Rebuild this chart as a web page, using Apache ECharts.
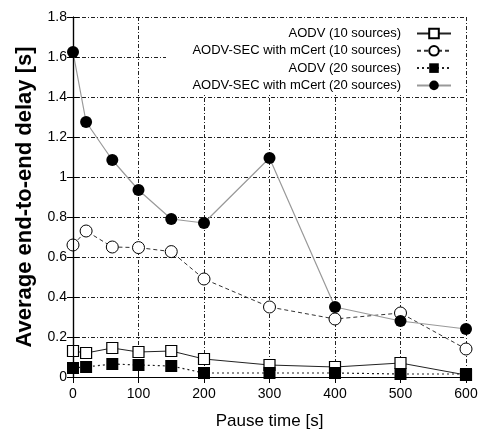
<!DOCTYPE html>
<html>
<head>
<meta charset="utf-8">
<script src="https://cdn.jsdelivr.net/npm/echarts@6/dist/echarts.min.js"></script>
<style>
  html, body { margin: 0; padding: 0; background: #fff; }
  #chart { width: 478px; height: 432px; }
</style>
</head>
<body>
<div id="chart"></div>
<script>
// pause time [s]
var pauseTimes = [0, 20, 60, 100, 150, 200, 300, 400, 500, 600];
// average end-to-end delay [s]
var aodv10 = [0.13, 0.12, 0.145, 0.125, 0.13, 0.09, 0.06, 0.05, 0.07, 0.01];
var sec10 = [0.66, 0.73, 0.65, 0.647, 0.627, 0.49, 0.35, 0.29, 0.32, 0.14];
var aodv20 = [0.045, 0.05, 0.065, 0.06, 0.055, 0.02, 0.02, 0.02, 0.015, 0.015];
var sec20 = [1.625, 1.275, 1.085, 0.935, 0.79, 0.77, 1.095, 0.35, 0.28, 0.24];
var seriesNames = [
  'AODV (10 sources)',
  'AODV-SEC with mCert (10 sources)',
  'AODV (20 sources)',
  'AODV-SEC with mCert (20 sources)'
];

var FONT = '"Liberation Sans", Arial, sans-serif';

function pairs(ys) {
  return pauseTimes.map(function (x, i) { return [x, ys[i]]; });
}

var chart = echarts.init(document.getElementById('chart'));

var gridLine = { show: true, lineStyle: { color: '#222', width: 1, type: [4, 2, 1, 2] } };
var frame = { show: true, lineStyle: { color: '#000', width: 1.2 } };
var tick = { show: true, inside: true, length: 6, lineStyle: { color: '#000' } };

var option = {
  animation: false,
  backgroundColor: '#fff',
  grid: { left: 73, right: 12, top: 17, bottom: 55, containLabel: false, outerBoundsMode: 'none' },
  // white key box hiding the grid behind the legend
  graphic: [{
    type: 'rect', z: 3, silent: true,
    shape: { x: 166, y: 18, width: 299, height: 77 },
    style: { fill: '#fff' }
  }],
  legend: {
    orient: 'vertical',
    right: 26,
    top: 27,
    align: 'right',
    itemWidth: 34,
    itemHeight: 12,
    itemGap: 4.3,
    padding: 0,
    z: 5,
    textStyle: { fontFamily: FONT, fontSize: 13, color: '#000' },
    // trailing spaces widen the gap between text and key
    formatter: function (name) { return name + '   '; },
    data: seriesNames
  },
  xAxis: [{
    type: 'value', min: 0, max: 600, interval: 100,
    name: 'Pause time [s]', nameLocation: 'middle', nameGap: 36,
    nameTextStyle: { fontFamily: FONT, fontSize: 17, color: '#000' },
    axisLine: frame, axisTick: tick, splitLine: gridLine,
    axisLabel: { fontFamily: FONT, fontSize: 14, color: '#000', margin: 10 }
  }, {
    type: 'value', min: 0, max: 600, interval: 100, position: 'top', z: 10,
    axisLine: frame, axisTick: tick, splitLine: { show: false }, axisLabel: { show: false }
  }],
  yAxis: [{
    type: 'value', min: 0, max: 1.8, interval: 0.2,
    name: 'Average end-to-end delay [s]', nameLocation: 'middle', nameGap: 37,
    nameTextStyle: { fontFamily: FONT, fontSize: 22, fontWeight: 'bold', color: '#000' },
    axisLine: frame, axisTick: tick, splitLine: gridLine,
    axisLabel: { fontFamily: FONT, fontSize: 14, color: '#000', margin: 6 }
  }, {
    type: 'value', min: 0, max: 1.8, interval: 0.2, position: 'right', z: 10,
    axisLine: frame, axisTick: tick, splitLine: { show: false }, axisLabel: { show: false }
  }],
  series: [{
    name: seriesNames[0], type: 'line', data: pairs(aodv10),
    symbol: 'rect', symbolSize: 11,
    lineStyle: { color: '#222', width: 1, type: 'solid' },
    itemStyle: { color: '#fff', borderColor: '#000', borderWidth: 1.2 }
  }, {
    name: seriesNames[1], type: 'line', data: pairs(sec10),
    symbol: 'circle', symbolSize: 12,
    lineStyle: { color: '#333', width: 1, type: [4, 3] },
    itemStyle: { color: '#fff', borderColor: '#000', borderWidth: 1 }
  }, {
    name: seriesNames[2], type: 'line', data: pairs(aodv20),
    symbol: 'rect', symbolSize: 12,
    lineStyle: { color: '#222', width: 1.2, type: [2, 3] },
    itemStyle: { color: '#000' }
  }, {
    name: seriesNames[3], type: 'line', data: pairs(sec20),
    symbol: 'circle', symbolSize: 12,
    lineStyle: { color: '#999', width: 1.2, type: 'solid' },
    itemStyle: { color: '#000' }
  }]
};

chart.setOption(option);
</script>
</body>
</html>
